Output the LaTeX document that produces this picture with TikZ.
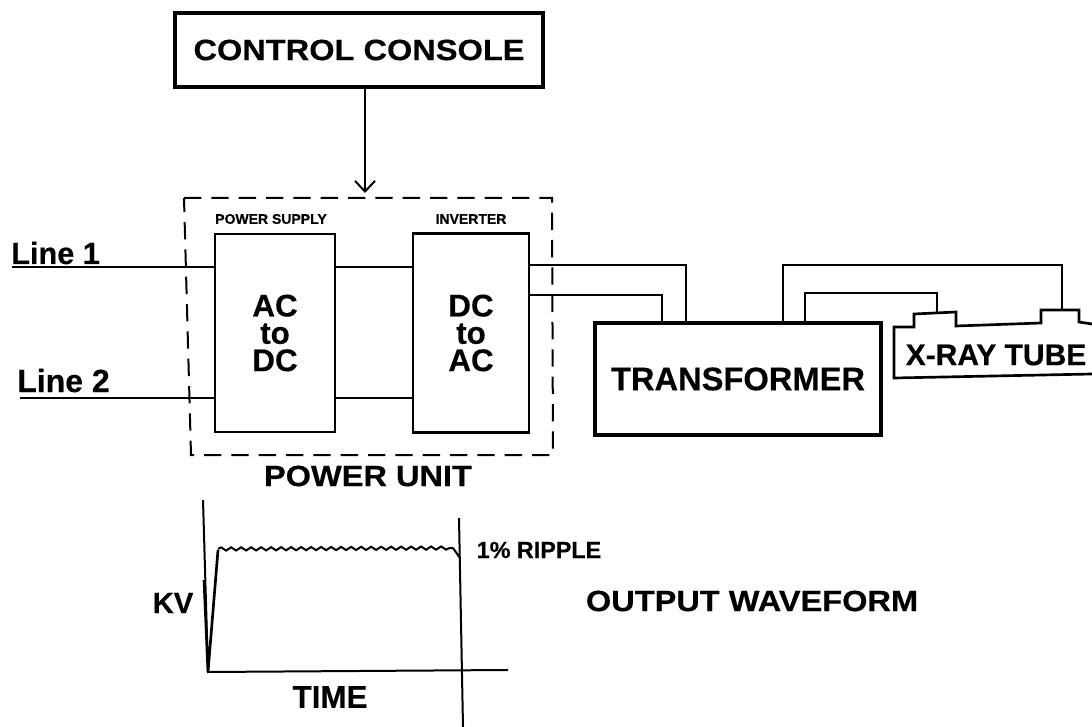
\documentclass[tikz,border=0pt]{standalone}
\usepackage{fontspec}
\setmainfont[BoldFeatures={FakeBold=0.4}]{Liberation Sans}
\newfontfamily\widefont[FakeStretch=1.11,BoldFeatures={FakeBold=0.4}]{Liberation Sans}
\usetikzlibrary{positioning,arrows.meta,decorations.pathmorphing}
\tikzset{
    unitbox/.style={draw, line width=2.2pt, inner sep=0pt},
    heavybox/.style={draw, line width=3.2pt, inner sep=0pt},
    wire/.style={line width=2pt},
    thinwire/.style={line width=1.5pt},
    blocktext/.style={inner sep=0pt, align=center, font=\bfseries\fontsize{23.5}{20.5}\selectfont},
    tinytext/.style={inner sep=0pt, font=\bfseries\fontsize{10.5}{12}\selectfont},
    linetext/.style={inner sep=0pt, anchor=base west},
    widetext/.style={inner sep=0pt, font=\widefont\bfseries\fontsize{22}{24}\selectfont},
}
\begin{document}
\begin{tikzpicture}[x=0.75pt,y=-0.75pt]
            \useasboundingbox (0,0) rectangle (1092,727);

            \node[heavybox, widetext, minimum width=276pt, minimum height=55.5pt] (console) at (359,50) {CONTROL CONSOLE};
            \coordinate (consoleend) at (365,193);
            \draw[thinwire, -{Straight Barb[length=8pt,width=15pt]}] (console.south -| consoleend) -- (consoleend);

            \draw[thinwire, dash pattern=on 13pt off 7.5pt] (184,198) -- (552,198) -- (553,455) -- (191,455) -- cycle;
            \node[tinytext] (supplylabel) at (271,219) {POWER SUPPLY};
            \node[tinytext] (inverterlabel) at (471,219) {INVERTER};

            \node[unitbox, blocktext, minimum width=90pt, minimum height=148.5pt] (acdc) at (275,333) {AC\\to\\DC};
            \node[unitbox, blocktext, minimum width=87pt, minimum height=149pt] (dcac) at (471,333) {DC\\to\\AC};

            \node[heavybox, minimum width=215pt, minimum height=83.5pt, font=\bfseries\fontsize{24.5}{26}\selectfont] (transformer) at (738,379) {TRANSFORMER};
            \node[widetext] (unitlabel) at (368,476) {POWER UNIT};

            \node[linetext, font=\bfseries\fontsize{23}{25}\selectfont] (lineone) at (11,264) {Line 1};
            \node[linetext, font=\bfseries\fontsize{24}{26}\selectfont] (linetwo) at (17,392) {Line 2};

            \coordinate (lineonestart) at (12,267);
            \coordinate (linetwostart) at (20,398);
            \draw[wire] (lineonestart) -- (acdc.west |- lineonestart);
            \draw[wire] (linetwostart) -- (acdc.west |- linetwostart);
            \draw[wire] (acdc.east |- lineonestart) -- (dcac.west |- lineonestart);
            \draw[wire] (acdc.east |- linetwostart) -- (dcac.west |- linetwostart);

            \coordinate (outerbend) at (686,265);
            \coordinate (innerbend) at (662,295);
            \draw[wire] (dcac.east |- outerbend) -- (outerbend) -- (outerbend |- transformer.north);
            \draw[wire] (dcac.east |- innerbend) -- (innerbend) -- (innerbend |- transformer.north);

            % tube with its two caps
            \draw[wire] (1092,324) -- (1079,322) -- (1079,310) -- (1041,310) -- (1041,323) -- (956,326) -- (956,312) -- (914,314) -- (914,327) -- (894,327) -- (894,378) -- (1092,374);
            \node[inner sep=0pt, font=\bfseries\fontsize{22.5}{24}\selectfont] (tube) at (996,355) {X-RAY TUBE};
            \coordinate (tubeleft) at (937,313);
            \coordinate (tuberight) at (1062,310);

            \coordinate (tubebendb) at (783,265);
            \coordinate (tubebenda) at (805,293);
            \draw[wire] (tubebendb |- transformer.north) -- (tubebendb) -- (tubebendb -| tuberight) -- (tuberight);
            \draw[wire] (tubebenda |- transformer.north) -- (tubebenda) -- (tubebenda -| tubeleft) -- (tubeleft);

            % waveform
            \draw[thinwire] (203,500) -- (208,672) -- (508,670);
            \draw[thinwire] (459,518) -- (463,727);
            \draw[wire] (204,580) -- (208,672) -- (218,550);
            \draw[thinwire, decorate, decoration={snake, amplitude=1.2pt, segment length=7.5pt}] (218,549) -- (453,548);
            \draw[thinwire] (453,548) -- (460,558);

            \node[inner sep=0pt, font=\bfseries\fontsize{17.5}{19}\selectfont] (ripple) at (539,550) {1\% RIPPLE};
            \node[inner sep=0pt, font=\bfseries\fontsize{22}{24}\selectfont] (kv) at (173,603) {KV};
            \node[inner sep=0pt, font=\bfseries\fontsize{23.5}{25}\selectfont] (timelabel) at (330,697) {TIME};
            \node[widetext] (waveform) at (752,601) {OUTPUT WAVEFORM};
        \end{tikzpicture}
\end{document}
